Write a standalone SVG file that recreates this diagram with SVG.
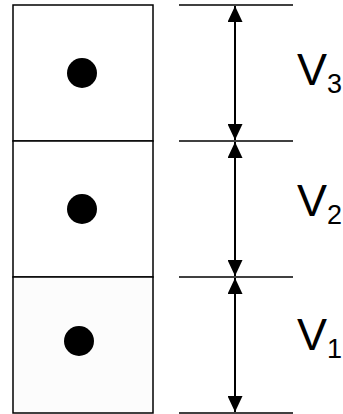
<svg xmlns="http://www.w3.org/2000/svg" width="343" height="414" viewBox="0 0 343 414">
<style>
.box{fill:#fff;stroke:#000;stroke-width:1.5}
.dot{fill:#000}
.ref{stroke:#000;stroke-width:1.5;fill:none}
.dim{stroke:#000;stroke-width:2;fill:none;marker-start:url(#ah);marker-end:url(#ah)}
.lbl{font-family:"Liberation Sans",Arial,sans-serif;font-size:45px;fill:#000}
.sub{font-size:27px}
</style>
<defs>
<marker id="ah" viewBox="0 0 16 15" refX="16" refY="7.5" markerWidth="16" markerHeight="15" markerUnits="userSpaceOnUse" orient="auto-start-reverse">
<path d="M0,0 L16,7.5 L0,15 Z" fill="#000"/>
</marker>
</defs>
<g id="cell3">
<rect class="box" x="13" y="5" width="140" height="136"/>
<circle class="dot" cx="82" cy="73" r="15"/>
</g>
<g id="cell2">
<rect class="box" x="13" y="141" width="140" height="136"/>
<circle class="dot" cx="82" cy="209" r="15"/>
</g>
<g id="cell1">
<rect class="box" x="13" y="277" width="140" height="136" style="fill:#fcfcfc"/>
<circle class="dot" cx="79" cy="341" r="15"/>
</g>
<g id="connectors">
<line class="ref" x1="179" y1="5" x2="293" y2="5"/>
<line class="ref" x1="179" y1="141" x2="293" y2="141"/>
<line class="ref" x1="179" y1="277" x2="293" y2="277"/>
<line class="ref" x1="179" y1="413" x2="293" y2="413"/>
<line class="dim" x1="235" y1="6" x2="235" y2="140"/>
<line class="dim" x1="235" y1="142" x2="235" y2="276"/>
<line class="dim" x1="235" y1="278" x2="235" y2="412"/>
</g>
<g id="label3"><text class="lbl" x="297" y="85">V<tspan class="sub" dy="8">3</tspan></text></g>
<g id="label2"><text class="lbl" x="297" y="216">V<tspan class="sub" dy="8">2</tspan></text></g>
<g id="label1"><text class="lbl" x="297" y="350">V<tspan class="sub" dy="8">1</tspan></text></g>
</svg>
